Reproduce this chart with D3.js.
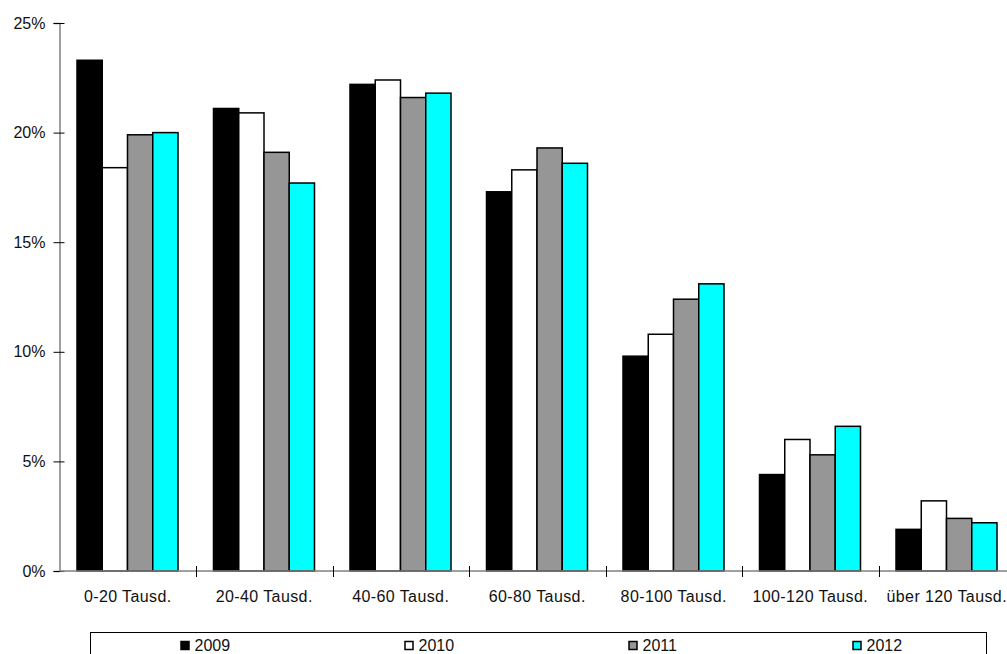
<!DOCTYPE html>
<html>
<head>
<meta charset="utf-8">
<script src="https://cdn.jsdelivr.net/npm/d3@7"></script>
<style>
  html, body { margin: 0; padding: 0; background: #fff; }
  svg { display: block; font-family: "Liberation Sans", Arial, sans-serif; }
</style>
</head>
<body>
<svg id="chart" width="1007" height="654"></svg>
<script>
// Income brackets (thousand euros) and share of households per year, in percent
const categories = ["0-20 Tausd.", "20-40 Tausd.", "40-60 Tausd.", "60-80 Tausd.", "80-100 Tausd.", "100-120 Tausd.", "über 120 Tausd."];
const years = ["2009", "2010", "2011", "2012"];
const values2009 = [23.3, 21.1, 22.2, 17.3, 9.8, 4.4, 1.9];
const values2010 = [18.4, 20.9, 22.4, 18.3, 10.8, 6.0, 3.2];
const values2011 = [19.9, 19.1, 21.6, 19.3, 12.4, 5.3, 2.4];
const values2012 = [20.0, 17.7, 21.8, 18.6, 13.1, 6.6, 2.2];
const yTicks = [0, 5, 10, 15, 20, 25];
const colors = ["#000000", "#ffffff", "#969696", "#00ffff"];

const series = [values2009, values2010, values2011, values2012];
const svg = d3.select("#chart");

const x0 = d3.scaleBand().domain(categories).range([59.5, 1015]).padding(0);
const step = x0.step();
const x1 = d3.scaleBand().domain(years).range([17.5, 118.5]).padding(0);
const y = d3.scaleLinear().domain([0, 25]).range([571, 23]);
const color = d3.scaleOrdinal().domain(years).range(colors);

// Bars
const groups = svg.append("g").selectAll("g")
  .data(categories)
  .join("g")
  .attr("transform", d => `translate(${x0(d)},0)`);

groups.selectAll("rect")
  .data((c, i) => years.map((yr, j) => ({ year: yr, value: series[j][i] })))
  .join("rect")
  .attr("x", d => x1(d.year))
  .attr("y", d => y(d.value))
  .attr("width", x1.bandwidth())
  .attr("height", d => y(0) - y(d.value))
  .attr("fill", d => color(d.year))
  .attr("stroke", "#000")
  .attr("stroke-width", 1.5);

// Y axis
const yAxis = svg.append("g")
  .attr("transform", "translate(59.5,0)")
  .call(d3.axisLeft(y).tickValues(yTicks).tickFormat(d => d + "%").tickSize(6).tickPadding(8));
yAxis.select(".domain").attr("stroke", "#808080").attr("stroke-width", 1.5);
yAxis.selectAll(".tick line").attr("x1", -6).attr("x2", 5).attr("stroke", "#000");
yAxis.selectAll(".tick text").attr("font-size", 16).attr("fill", "#111")
  .attr("font-family", "Liberation Sans, Arial, sans-serif");

// X axis baseline and bracket separators
svg.append("line")
  .attr("x1", 59.5).attr("x2", 1015)
  .attr("y1", y(0)).attr("y2", y(0))
  .attr("stroke", "#808080").attr("stroke-width", 1.5);

svg.append("g").selectAll("line")
  .data(categories.slice(0, -1))
  .join("line")
  .attr("x1", d => Math.round(x0(d) + step) + 0.5)
  .attr("x2", d => Math.round(x0(d) + step) + 0.5)
  .attr("y1", y(0) - 5).attr("y2", y(0) + 6)
  .attr("stroke", "#000");

svg.append("g").selectAll("text")
  .data(categories)
  .join("text")
  .attr("x", d => x0(d) + step / 2)
  .attr("y", 602)
  .attr("text-anchor", "middle")
  .attr("font-size", 16)
  .attr("letter-spacing", 0.4)
  .attr("fill", "#111")
  .text(d => d);

// Legend
const legend = svg.append("g");
legend.append("rect")
  .attr("x", 90.5).attr("y", 632.5)
  .attr("width", 896).attr("height", 40)
  .attr("fill", "#fff").attr("stroke", "#000").attr("stroke-width", 1);

const legendX = d3.scaleBand().domain(years).range([90.5, 986.5]);
const items = legend.selectAll("g.item")
  .data(years)
  .join("g")
  .attr("class", "item")
  .attr("transform", d => `translate(${legendX(d) + 90},0)`);
items.append("rect")
  .attr("x", 0.5).attr("y", 641.5)
  .attr("width", 8).attr("height", 8)
  .attr("fill", d => color(d))
  .attr("stroke", "#000").attr("stroke-width", 1.5);
items.append("text")
  .attr("x", 14).attr("y", 651)
  .attr("font-size", 16)
  .attr("fill", "#111")
  .text(d => d);
</script>
</body>
</html>
